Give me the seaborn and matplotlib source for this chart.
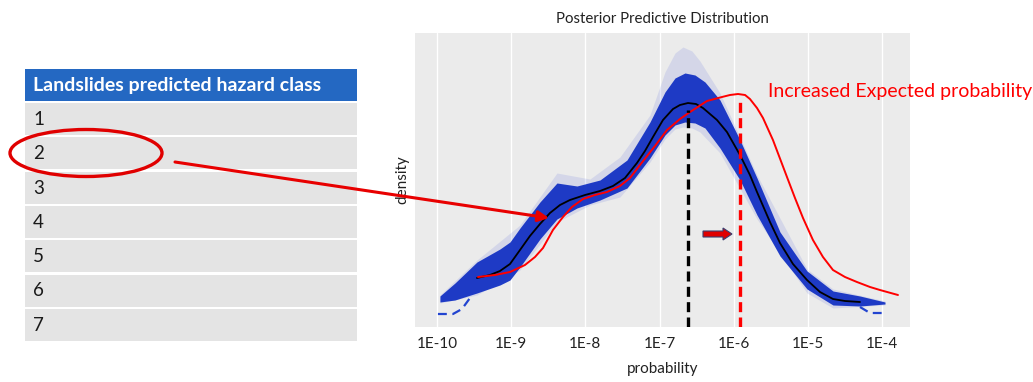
import numpy as np
import pandas as pd
import matplotlib
matplotlib.use("Agg")
import matplotlib.pyplot as plt
from matplotlib.patches import Rectangle, Ellipse, FancyArrow
from matplotlib.ticker import FixedLocator, FixedFormatter
import seaborn as sns

# ---------------- data ----------------
hazard_classes = ["1", "2", "3", "4", "5", "6", "7"]
table_header = "Landslides predicted hazard class"

# posterior predictive mean density (x in log10 probability)
mean_logp = [-9.461, -9.286, -9.151, -9.016, -8.881, -8.747, -8.612, -8.477, -8.342,
             -8.208, -8.005, -7.803, -7.628, -7.466, -7.305, -7.197, -7.089, -6.954,
             -6.819, -6.725, -6.617, -6.509, -6.415, -6.226, -6.092, -5.916, -5.782,
             -5.687, -5.512, -5.377, -5.202, -5.013, -4.838, -4.663, -4.501, -4.299]
mean_dens = [0.49, 0.52, 0.56, 0.63, 0.77, 0.91, 1.03, 1.14, 1.22,
             1.27, 1.32, 1.36, 1.41, 1.49, 1.64, 1.76, 1.90, 2.07,
             2.18, 2.22, 2.24, 2.23, 2.19, 2.07, 1.95, 1.72, 1.52,
             1.35, 1.05, 0.84, 0.63, 0.47, 0.35, 0.28, 0.26, 0.25]

# shifted (increased) expected probability density
shift_logp = [-9.447, -9.218, -9.016, -8.814, -8.679, -8.571, -8.437, -8.302, -8.181,
              -8.032, -7.871, -7.709, -7.534, -7.399, -7.264, -7.062, -6.900, -6.725,
              -6.590, -6.361, -6.159, -6.051, -5.943, -5.848, -5.782, -5.687, -5.606,
              -5.472, -5.283, -5.175, -5.067, -4.933, -4.798, -4.663, -4.501, -4.340,
              -4.164, -4.030, -3.787]
shift_dens = [0.50, 0.52, 0.55, 0.62, 0.70, 0.79, 0.97, 1.10, 1.20,
              1.28, 1.32, 1.35, 1.41, 1.49, 1.62, 1.81, 1.97, 2.08,
              2.15, 2.26, 2.30, 2.32, 2.33, 2.32, 2.28, 2.19, 2.09,
              1.87, 1.50, 1.29, 1.09, 0.87, 0.70, 0.57, 0.50, 0.45,
              0.40, 0.37, 0.32]

# envelope of the posterior draws (dense core)
core_logp = [-9.960, -9.757, -9.461, -9.151, -9.016, -8.881, -8.612, -8.383, -8.113,
             -7.803, -7.439, -7.129, -6.927, -6.792, -6.658, -6.523, -6.388, -6.186,
             -5.916, -5.687, -5.377, -5.013, -4.663, -4.299, -3.962]
core_lo = [0.25, 0.27, 0.34, 0.42, 0.47, 0.60, 0.88, 1.08, 1.19,
           1.27, 1.39, 1.69, 1.92, 2.02, 2.05, 2.04, 1.99, 1.79,
           1.47, 1.12, 0.71, 0.38, 0.22, 0.21, 0.23]
core_hi = [0.31, 0.44, 0.65, 0.78, 0.85, 0.99, 1.25, 1.44, 1.41,
           1.47, 1.67, 2.05, 2.35, 2.49, 2.54, 2.52, 2.45, 2.27,
           1.87, 1.49, 0.95, 0.56, 0.36, 0.31, 0.25]

# envelope of the posterior draws (outermost draws)
outer_logp = [-9.960, -9.461, -8.881, -8.383, -7.938, -7.534, -7.129, -6.927, -6.792,
              -6.685, -6.564, -6.456, -6.186, -5.687, -5.013, -4.663, -3.962]
outer_lo = [0.24, 0.32, 0.57, 1.05, 1.22, 1.30, 1.65, 1.88, 1.98,
            2.00, 1.99, 1.95, 1.74, 1.08, 0.34, 0.19, 0.22]
outer_hi = [0.32, 0.67, 1.02, 1.54, 1.48, 1.70, 2.12, 2.55, 2.74,
            2.80, 2.76, 2.66, 2.34, 1.52, 0.58, 0.38, 0.26]

# extrapolated tails (dashed)
tail_left_logp = [-9.987, -9.784, -9.663, -9.555]
tail_left_dens = [0.13, 0.13, 0.18, 0.29]
tail_right_logp = [-4.299, -4.164, -3.935]
tail_right_dens = [0.20, 0.14, 0.14]

# modes
mode_mean_logp, mode_mean_dens = -6.617, 2.17
mode_shift_logp, mode_shift_dens = -5.916, 2.30

tick_logp = [-10, -9, -8, -7, -6, -5, -4]
tick_labels = ["1E-10", "1E-9", "1E-8", "1E-7", "1E-6", "1E-5", "1E-4"]

# ---------------- style ----------------
sns.set_theme(style="darkgrid",
              rc={"axes.facecolor": "#EBEBEB", "grid.color": "white",
                  "grid.linewidth": 1.0, "axes.edgecolor": "#EBEBEB",
                  "lines.solid_joinstyle": "round"})
plt.rcParams["font.family"] = ["Lato", "DejaVu Sans"]

W, H = 1033, 382
fig = plt.figure(figsize=(W / 100, H / 100), dpi=100)
fig.patch.set_facecolor("white")

ax = fig.add_axes([415 / W, 1 - 327 / H, 495 / W, 294 / H])

p = lambda v: np.power(10.0, np.asarray(v))

BLUE = "#1432C4"
ax.fill_between(p(outer_logp), outer_lo, outer_hi, color="#3a50d8", alpha=0.13, lw=0)
ax.fill_between(p(core_logp), core_lo, core_hi, color=BLUE, alpha=0.95, lw=0)

df_mean = pd.DataFrame({"probability": p(mean_logp), "density": mean_dens})
df_shift = pd.DataFrame({"probability": p(shift_logp), "density": shift_dens})
sns.lineplot(data=df_mean, x="probability", y="density", color="black", lw=1.3, ax=ax)
sns.lineplot(data=df_shift, x="probability", y="density", color="#FF0000", lw=1.4, ax=ax)

for lp, ld in [(tail_left_logp, tail_left_dens), (tail_right_logp, tail_right_dens)]:
    sns.lineplot(x=p(lp), y=ld, color="#2244D0", lw=1.6, ax=ax,
                 linestyle=(0, (4, 2.5)))

ax.vlines(p(mode_mean_logp), 0, mode_mean_dens, colors="black", lw=2.4,
          linestyles=(0, (3, 1.6)))
ax.vlines(p(mode_shift_logp), 0, mode_shift_dens, colors="#FF0000", lw=2.4,
          linestyles=(0, (3, 1.6)))

ax.set_xscale("log")
ax.minorticks_off()
ax.set_xlim(p(-10.296), p(-3.625))
ax.set_ylim(0, 2.94)
ax.xaxis.set_major_locator(FixedLocator(p(tick_logp)))
ax.xaxis.set_major_formatter(FixedFormatter(tick_labels))
ax.set_yticks([])
ax.grid(True, axis="x", which="major", color="white", lw=1.0)
ax.grid(False, axis="y")
ax.tick_params(axis="x", length=0, pad=7, labelsize=11, labelcolor="#222222")
for s in ax.spines.values():
    s.set_visible(False)
ax.set_xlabel("probability", fontsize=11, color="#222222", labelpad=8)
ax.set_ylabel("density", fontsize=11, color="#222222", labelpad=4)
ax.set_title("Posterior Predictive Distribution", fontsize=10.8, color="#222222", pad=7)

# ---------------- overlay: table and annotations ----------------
ov = fig.add_axes([0, 0, 1, 1])
ov.set_xlim(0, W)
ov.set_ylim(H, 0)
ov.axis("off")
ov.patch.set_alpha(0)

ov.add_patch(Rectangle((25, 69), 332, 32, facecolor="#2468C2", edgecolor="none"))
ov.text(33, 85.5, table_header, color="white", fontsize=14, fontweight="bold",
        va="center", ha="left")
for i, lab in enumerate(hazard_classes):
    top = 103 + i * 34.3
    ov.add_patch(Rectangle((25, top), 332, 32, facecolor="#E4E4E4", edgecolor="none"))
    ov.text(33, top + 16.5, lab, color="#1a1a1a", fontsize=13.5, va="center", ha="left")

ov.add_patch(Ellipse((86, 153), 152, 47, facecolor="none", edgecolor="#E00000", lw=2.4))
ov.annotate("", xy=(549, 218), xytext=(175, 162),
            arrowprops=dict(arrowstyle="-|>", color="#E80000", lw=2.2,
                            mutation_scale=16, shrinkA=0, shrinkB=0))
ov.add_patch(FancyArrow(703, 234, 29, 0, width=6, head_width=12, head_length=9,
                        length_includes_head=True, facecolor="#E00000",
                        edgecolor="#3a3f70", lw=0.8))
ov.text(768, 92, "Increased Expected probability", color="#FF0000", fontsize=14,
        va="center", ha="left")

fig.savefig("out.png", dpi=100, facecolor="white")
